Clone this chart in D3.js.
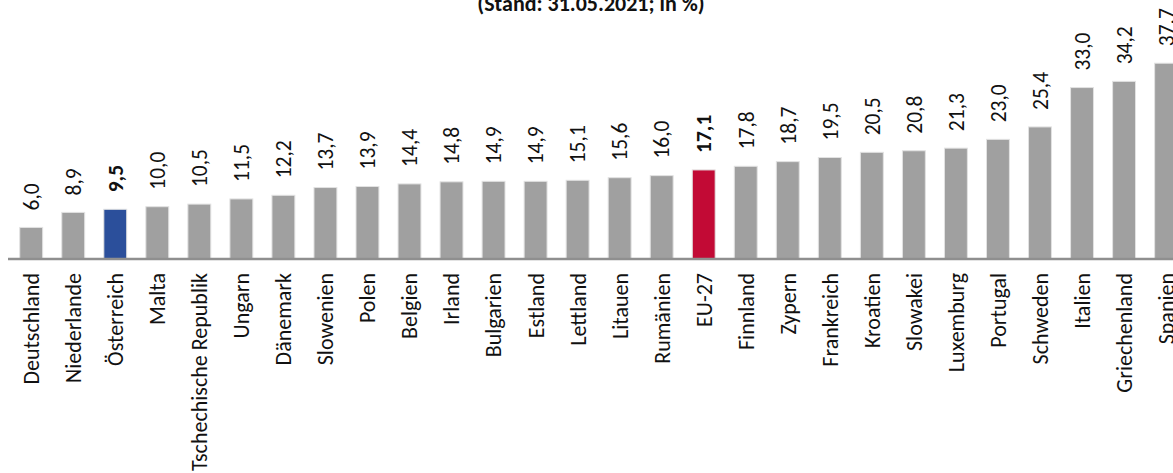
<!DOCTYPE html>
<html>
<head>
<meta charset="utf-8">
<script src="https://cdn.jsdelivr.net/npm/d3@7"></script>
<style>
  body { margin: 0; background: #fff; }
  text { font-family: Calibri, Carlito, Lato, sans-serif; fill: #111; }
</style>
</head>
<body>
<div id="chart"></div>
<script>
// data
const countries = ["Deutschland", "Niederlande", "Österreich", "Malta", "Tschechische Republik",
  "Ungarn", "Dänemark", "Slowenien", "Polen", "Belgien", "Irland", "Bulgarien", "Estland",
  "Lettland", "Litauen", "Rumänien", "EU-27", "Finnland", "Zypern", "Frankreich", "Kroatien",
  "Slowakei", "Luxemburg", "Portugal", "Schweden", "Italien", "Griechenland", "Spanien"];
const values = [6.0, 8.9, 9.5, 10.0, 10.5, 11.5, 12.2, 13.7, 13.9, 14.4, 14.8, 14.9, 14.9,
  15.1, 15.6, 16.0, 17.1, 17.8, 18.7, 19.5, 20.5, 20.8, 21.3, 23.0, 25.4, 33.0, 34.2, 37.7];
const highlight = {"Österreich": "#2B4F9B", "EU-27": "#C20A35"};
const subtitle = "(Stand: 31.05.2021; in %)";

const width = 1173, height = 473;
const baseY = 258.5;

const svg = d3.select("#chart").append("svg")
  .attr("width", width)
  .attr("height", height);

const data = countries.map((c, i) => ({ name: c, value: values[i] }));

// band scale: first center ~29.5, step ~42.16
const x = d3.scaleBand()
  .domain(countries)
  .range([8.4, 8.4 + 42.16 * countries.length])
  .paddingInner(0.455)
  .paddingOuter(0.27);

const y = d3.scaleLinear()
  .domain([0, 50])
  .range([baseY, baseY - 5.18 * 50]);

// bars
svg.selectAll(".bar")
  .data(data)
  .join("rect")
  .attr("class", "bar")
  .attr("x", d => x(d.name))
  .attr("y", d => y(d.value))
  .attr("width", x.bandwidth())
  .attr("height", d => baseY - y(d.value))
  .attr("fill", d => highlight[d.name] || "#A0A0A0")
  .attr("stroke", "#e2e2e2")
  .attr("stroke-width", 1);

// axis line
svg.append("line")
  .attr("x1", 8).attr("x2", width)
  .attr("y1", baseY + 0.5).attr("y2", baseY + 0.5)
  .attr("stroke", "#8f8f8f")
  .attr("stroke-width", 2.5);

// value labels
svg.selectAll(".val")
  .data(data)
  .join("text")
  .attr("class", "val")
  .attr("transform", d => `translate(${x(d.name) + x.bandwidth() / 2}, ${y(d.value) - 17}) rotate(-90)`)
  .attr("dy", "0.36em")
  .attr("font-size", 21.5)
  .attr("font-weight", d => highlight[d.name] ? "bold" : "normal")
  .text(d => d3.format(".1f")(d.value).replace(".", ","));

// category labels
svg.selectAll(".cat")
  .data(data)
  .join("text")
  .attr("class", "cat")
  .attr("transform", d => `translate(${x(d.name) + x.bandwidth() / 2}, ${baseY + 14.5}) rotate(-90)`)
  .attr("dy", "0.36em")
  .attr("text-anchor", "end")
  .attr("font-size", 22)
  .text(d => d.name);

// subtitle (cropped at top)
svg.append("text")
  .attr("x", 591)
  .attr("y", 10.5)
  .attr("text-anchor", "middle")
  .attr("font-size", 22)
  .attr("font-weight", "bold")
  .text(subtitle);
</script>
</body>
</html>
